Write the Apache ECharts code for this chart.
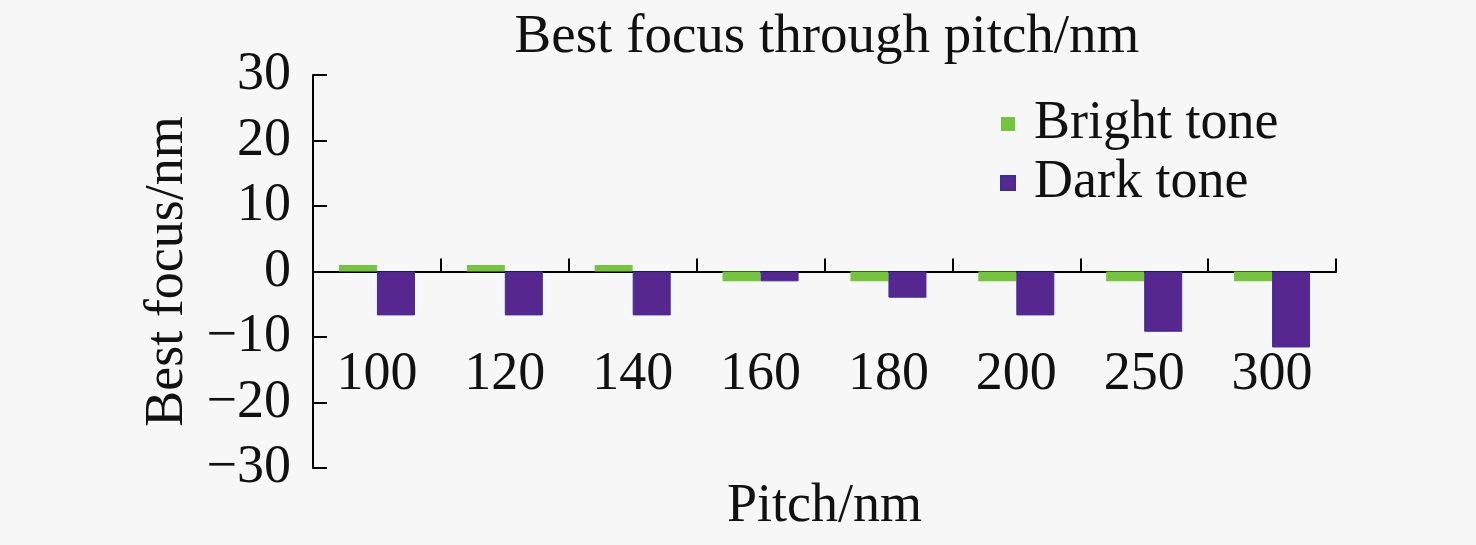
<!DOCTYPE html>
<html>
<head>
<meta charset="utf-8">
<script src="https://cdn.jsdelivr.net/npm/echarts@6/dist/echarts.min.js"></script>
<style>
html,body{margin:0;padding:0;background:#f7f7f7;}
#c{width:1476px;height:545px;}
</style>
</head>
<body>
<div id="c"></div>
<script>
const categories = ['100','120','140','160','180','200','250','300'];
const brightTone = [1, 1, 1, -1.5, -1.5, -1.5, -1.5, -1.5];
const darkTone = [-6.7, -6.7, -6.7, -1.5, -4, -6.7, -9.2, -11.6];
const seriesNames = ['Bright tone', 'Dark tone'];
const titleText = 'Best focus through pitch/nm';
const xName = 'Pitch/nm';
const yName = 'Best focus/nm';

const FONT = "'Liberation Serif', 'Times New Roman', serif";
const FS = 54;
const chart = echarts.init(document.getElementById('c'), null, {renderer:'canvas'});
chart.setOption({
  backgroundColor: '#f7f7f7',
  animation: false,
  title: {
    text: titleText,
    left: 822,
    textAlign: 'center',
    top: 5,
    textStyle: {fontFamily: FONT, fontSize: 55, fontWeight: 'normal', color: '#111'}
  },
  legend: {
    orient: 'vertical',
    left: 995,
    top: 92,
    itemWidth: 14,
    itemHeight: 14,
    itemGap: 5,
    icon: 'rect',
    textStyle: {fontFamily: FONT, fontSize: FS, color: '#111', padding: [0,0,0,14]},
    data: seriesNames
  },
  grid: {left: 313, right: 140, top: 75, bottom: 77, containLabel: false, outerBoundsMode: 'none'},
  xAxis: {
    type: 'category',
    data: categories,
    name: xName,
    nameLocation: 'middle',
    nameGap: 12,
    nameTextStyle: {fontFamily: FONT, fontSize: FS, color: '#111'},
    axisLine: {onZero: true, lineStyle: {color: '#000', width: 2}},
    axisTick: {show: true, inside: true, length: 13, interval: 0, lineStyle: {color: '#000', width: 2}},
    axisLabel: {fontFamily: FONT, fontSize: FS, color: '#111', margin: -120, interval: 0},
    splitLine: {show: false}
  },
  yAxis: {
    type: 'value',
    min: -30, max: 30, interval: 10,
    name: yName,
    nameLocation: 'middle',
    nameGap: 118,
    nameTextStyle: {fontFamily: FONT, fontSize: FS, color: '#111'},
    axisLine: {show: true, lineStyle: {color: '#000', width: 2}},
    axisTick: {show: true, inside: true, length: 14, lineStyle: {color: '#000', width: 2}},
    axisLabel: {fontFamily: FONT, fontSize: FS, color: '#111', margin: 22, hideOverlap: false,
      formatter: v => (v < 0 ? '\u2212' + Math.abs(v) : String(v))},
    splitLine: {show: false}
  },
  series: [
    {name: seriesNames[0], type: 'bar', data: brightTone, barWidth: 38, barGap: '0%',
     itemStyle: {color: '#74c43e'}},
    {name: seriesNames[1], type: 'bar', data: darkTone, barWidth: 38, barGap: '0%',
     itemStyle: {color: '#55278f', borderColor: '#3a2e9c', borderWidth: 1}}
  ]
});
</script>
</body>
</html>
